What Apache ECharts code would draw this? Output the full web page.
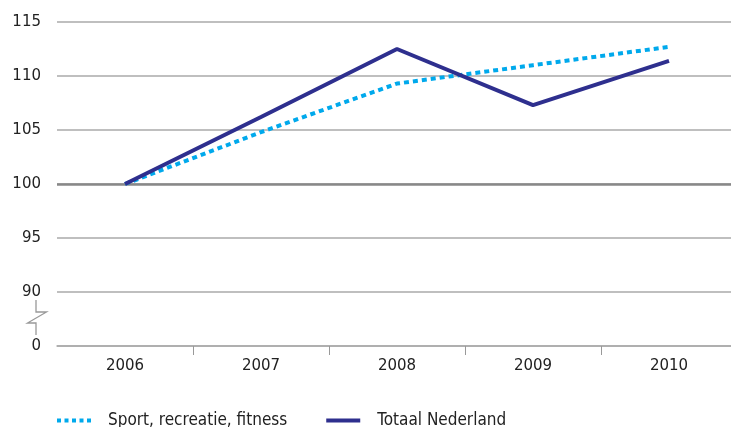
<!DOCTYPE html>
<html>
<head>
<meta charset="utf-8">
<script src="https://cdn.jsdelivr.net/npm/echarts@6/dist/echarts.min.js"></script>
<style>
  html, body { margin: 0; padding: 0; background: #fff; }
  #chart { width: 731px; height: 427px; }
</style>
</head>
<body>
<div id="chart"></div>
<script>
// 数据
const years = ['2006', '2007', '2008', '2009', '2010'];
const sportValues = [100, 104.8, 109.3, 111.0, 112.7];
const totaalValues = [100, 106.2, 112.5, 107.3, 111.4];
const seriesNames = ['Sport, recreatie, fitness', 'Totaal Nederland'];
// 轴底部 85 显示为 0（断轴）
const axisBottom = 85;
const axisTop = 115;

const fontFamily = "'Liberation Sans Narrow', 'DejaVu Sans Condensed', sans-serif";
// 图例图标：虚线 / 实线
const dottedIcon = 'path://M0,0h4v4h-4z M7.5,0h4v4h-4z M15,0h4v4h-4z M22.5,0h4v4h-4z M30,0h4v4h-4z';
const solidIcon = 'path://M0,0h34v4h-34z';

window.onload = function () {
  const chart = echarts.init(document.getElementById('chart'));

  const option = {
    animation: false,
    grid: {
      left: 57,
      width: 680,
      top: 22,
      bottom: 81,
      outerBoundsMode: 'none',
    },
    legend: {
      bottom: -7,
      left: 52,
      itemWidth: 34,
      itemHeight: 4,
      itemGap: 39,
      symbolKeepAspect: false,
      textStyle: {
        fontFamily,
        fontSize: 17,
        color: '#222',
        padding: [0, 0, 0, 12],
      },
      data: [
        { name: seriesNames[0], icon: dottedIcon, itemStyle: { color: '#00a9ec' } },
        { name: seriesNames[1], icon: solidIcon, itemStyle: { color: '#2e2f8e' } },
      ],
    },
    xAxis: {
      type: 'category',
      data: years,
      boundaryGap: true,
      axisLine: { lineStyle: { color: '#aaa', width: 1.5 } },
      axisTick: {
        show: true,
        length: 9,
        interval: (index) => index > 0,
        lineStyle: { color: '#999' },
      },
      axisLabel: {
        margin: 13,
        fontFamily: 'DejaVu Sans',
        fontSize: 15,
        color: '#222',
      },
    },
    yAxis: {
      type: 'value',
      min: axisBottom,
      max: axisTop,
      interval: 5,
      axisLine: { show: false },
      axisTick: { show: false },
      axisLabel: {
        margin: 16,
        fontFamily: 'DejaVu Sans',
        fontSize: 15,
        color: '#222',
        formatter: v => (v === axisBottom ? '0' : String(v)),
      },
      splitLine: { lineStyle: { color: '#aaa', width: 1.5 } },
    },
    series: [
      {
        name: seriesNames[0],
        type: 'line',
        data: sportValues,
        symbol: 'none',
        z: 3,
        lineStyle: { color: '#00a9ec', width: 4, type: [5, 4] },
        itemStyle: { color: '#00a9ec' },
        markLine: {
          silent: true,
          symbol: 'none',
          label: { show: false },
          lineStyle: { color: '#888', width: 2.5, type: 'solid' },
          data: [{ yAxis: 100 }],
          z: 1,
        },
      },
      {
        name: seriesNames[1],
        type: 'line',
        data: totaalValues,
        symbol: 'none',
        z: 4,
        lineStyle: { color: '#2e2f8e', width: 4 },
        itemStyle: { color: '#2e2f8e' },
      },
    ],
    graphic: [
      {
        // 断轴符号
        type: 'polyline',
        shape: {
          points: [[36, 300], [36, 312], [46.5, 312], [27.5, 323], [36, 323], [36, 335]],
        },
        style: { stroke: '#999', lineWidth: 1.3, fill: null },
      },
    ],
  };

  chart.setOption(option);
};
</script>
</body>
</html>
